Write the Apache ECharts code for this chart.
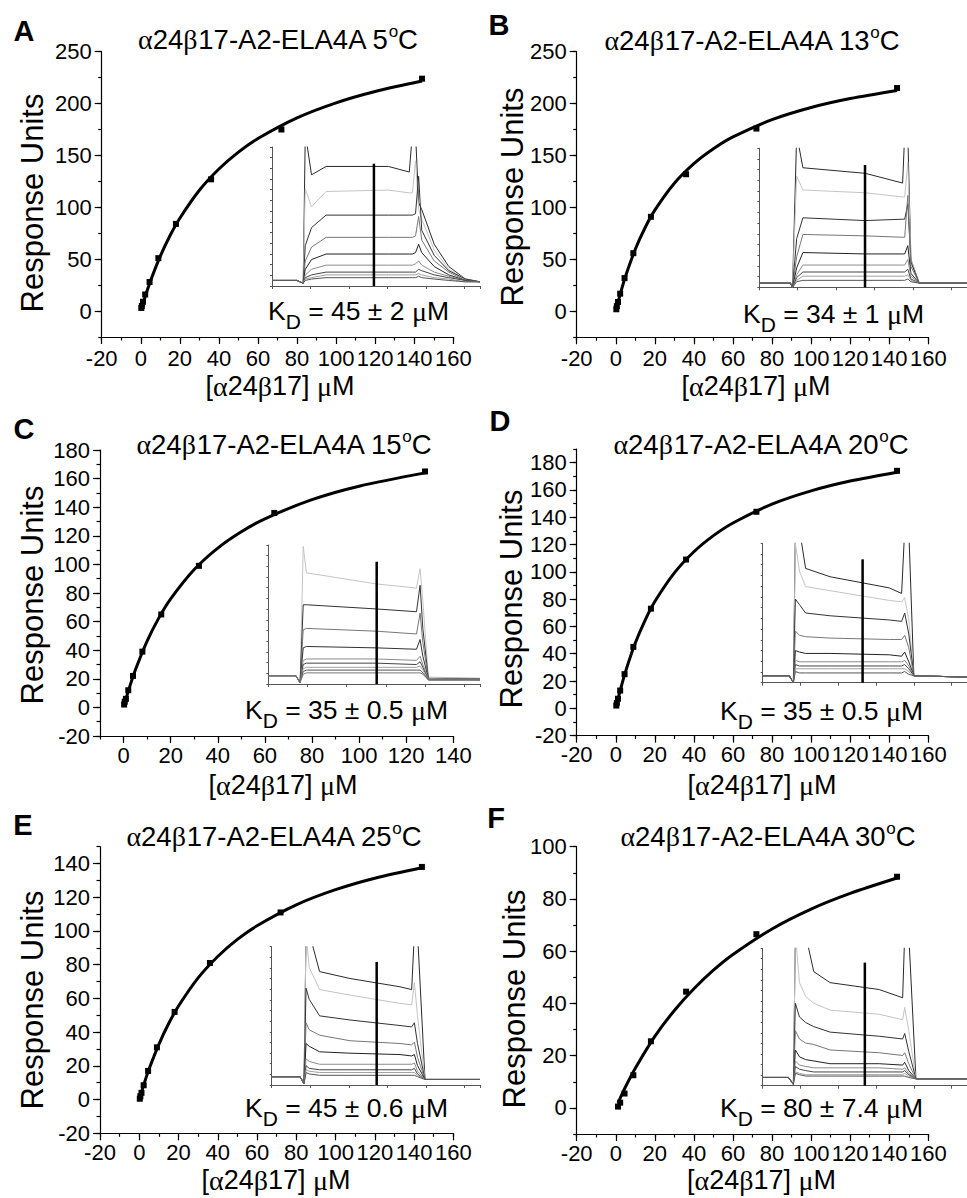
<!DOCTYPE html>
<html><head><meta charset="utf-8">
<script src="https://cdn.jsdelivr.net/npm/echarts@6/dist/echarts.min.js"></script>
<style>html,body{margin:0;padding:0;background:#fff}#c{width:967px;height:1198px}</style>
</head><body><div id="c"></div>
<script>
// ---------------- DATA ----------------
const panelLetters = ['A','B','C','D','E','F'];
const temperatures = ['5','13','15','20','25','30'];
const kdTexts = ['45 ± 2','34 ± 1','35 ± 0.5','35 ± 0.5','45 ± 0.6','80 ± 7.4'];

// measured points (concentration µM, response units)
const concA = [0.28,0.56,1.13,2.25,4.5,9,18,36,72,144];
const ruA   = [3,5,9,16,28,51,84,127,175,224];
const concB = [0.28,0.56,1.13,2.25,4.5,9,18,36,72,144];
const ruB   = [2,5,9,17,32,56,91,132,176,215];
const concC = [0.25,0.5,1,2,4,8,16,32,64,128];
const ruC   = [2,4,6,12,22,39,65,99,136,165];
const concD = [0.28,0.56,1.13,2.25,4.5,9,18,36,72,144];
const ruD   = [2,4,7,13,25,45,73,109,144,174];
const concE = [0.28,0.56,1.13,2.25,4.5,9,18,36,72,144];
const ruE   = [0.5,2,4,8.5,17,31,52,81,111,138];
const concF = [1.13,2.25,4.5,9,18,36,72,144];
const ruF   = [0.5,2,5.5,12.5,25.5,44.5,66.5,88.5];

// fitted curves
const fitXA = [0.3,2,5,10,15,20,30,40,50,60,80,100,120,144];
const fitYA = [1.9,12.4,29.1,52.9,72.8,89.5,116.4,136.9,153.2,166.3,186.2,200.7,211.6,221.7];
const fitXB = [0.3,2,5,10,15,20,30,40,50,60,80,100,120,144];
const fitYB = [2.3,14.6,33.7,59.8,80.5,97.4,123.3,142.2,156.5,167.9,184.6,196.3,204.9,212.7];
const fitXC = [0.25,2,5,10,15,20,30,40,50,60,80,100,128];
const fitYC = [1.5,11.3,26.1,46.4,62.6,75.9,96.4,111.4,122.8,131.9,145.3,154.7,164];
const fitXD = [0.28,2,5,10,15,20,30,40,50,60,80,100,120,144];
const fitYD = [1.7,11.6,26.9,47.8,64.5,78.2,99.2,114.7,126.5,135.8,149.6,159.3,166.5,173];
const fitXE = [0.28,2,5,10,15,20,30,40,50,60,80,100,120,144];
const fitYE = [1.1,7.7,18.1,32.8,45.1,55.5,72.2,84.9,95.0,103.1,115.5,124.5,131.3,137.5];
const fitXF = [1.13,2,5,10,20,30,40,50,60,80,100,120,144];
const fitYF = [1.9,3.3,8.1,15.2,27.4,37.3,45.6,52.7,58.7,68.5,76.1,82.1,88];

// tick labels
const xTicksWide = [-20,0,20,40,60,80,100,120,140,160];
const xTicksC = [0,20,40,60,80,100,120,140];
const yTicksAB = [0,50,100,150,200,250];
const yTicksCD = [-20,0,20,40,60,80,100,120,140,160,180];
const yTicksE = [-20,0,20,40,60,80,100,120,140];
const yTicksF = [0,20,40,60,80,100];

// inset sensorgrams (relative time 0-100, relative response 0-100 of inset height)
const timeA = [0,12,15,16,19,26,56,66,67.5,69,70.5,72,78,85,93,100];
const tracesA = [
 [4,4,2,110,80,86,86,82,110,110,60,55,30,14,5,3],
 [4,4,2,70,57,68,69,67,67,90,55,48,26,12,5,3],
 [4,4,2,29,42,51,51,51,51,52,79,40,22,11,5,3],
 [4,4,2,18,28,35,35,35,35,36,50,33,18,10,4,3],
 [4,4,2,12,19,23,23,23,23,24,30,24,14,8,4,3],
 [4,4,2,8,12,15,15,15,15,16,18,15,10,7,4,3],
 [4,4,2,6,8,10,10,10,10,10,12,11,8,6,4,3],
 [4,4,2,5,6,8,8,8,8,8,9,8,6,5,3,3],
 [4,4,2,4,5,6,6,6,6,6,7,6,5,4,3,3]
];
const timeB = [0,15,16,18,21,51,69,70,71.5,73,77,100];
const tracesB = [
 [3,3,0,110,86,82,75,110,110,20,3,3],
 [3,3,0,80,70,68,65,65,90,20,3,3],
 [3,3,0,35,50,48,49,49,60,18,3,3],
 [3,3,0,22,38,37,36,36,66,15,3,3],
 [3,3,0,14,25,24,24,24,30,10,3,3],
 [3,3,0,9,16,16,16,16,20,8,3,3],
 [3,3,0,7,11,11,11,11,13,6,3,3],
 [3,3,0,5,8,8,8,8,9,5,3,3],
 [3,3,0,4,5,5,5,5,6,4,3,3]
];
const timeC = [0,13,15,16.5,18,51,70,71.7,73,75.6,100];
const tracesC = [
 [6,6,1,99,80,72,69,83,60,5,4],
 [6,6,1,57,57,54,52,71,40,4,4],
 [6,6,1,39,40,38,36,51,30,4,4],
 [6,6,1,26,27,26,25,32,20,4,3],
 [6,6,1,17,18,18,17,20,14,4,3],
 [6,6,1,14,15,15,14,16,12,3,3],
 [6,6,1,11,12,12,12,13,10,3,3],
 [6,6,1,9,10,10,10,10,8,3,3],
 [6,6,1,7,8,8,8,8,7,3,3]
];
const timeD = [0,13,15,16,18,21,33,62,68,69.5,71.5,74,100];
const tracesD = [
 [5,5,0,110,110,82,76,68,64,110,110,5,4],
 [5,5,0,100,80,69,66,59,58,61,45,5,4],
 [5,5,0,60,56,50,48,45,44,50,35,5,4],
 [5,5,0,37,34,33,32,31,31,34,25,5,4],
 [5,5,0,23,22,21,21,20,19,22,15,5,4],
 [5,5,0,16,15,15,15,15,15,16,12,5,4],
 [5,5,0,13,12,12,12,12,12,13,10,5,4],
 [5,5,0,10,10,10,10,10,10,10,8,5,4],
 [5,5,0,8,7,7,7,7,7,8,6,5,4]
];
const timeE = [0,13.6,15.5,16.5,18,23,37.6,61.6,67.2,68.5,70,73.6,100];
const tracesE = [
 [6,6,1,110,110,82,77,71,69,110,110,4,4],
 [6,6,1,110,85,69,65,59,58,74,50,4,4],
 [6,6,1,70,62,50,47,43,42,45,30,4,4],
 [6,6,1,45,40,36,32,30,29,31,20,4,4],
 [6,6,1,30,28,24,23,22,21,22,14,4,4],
 [6,6,1,19,17,15,15,15,15,16,10,4,4],
 [6,6,1,14,12,11,11,11,11,12,8,4,4],
 [6,6,1,11,10,9,9,9,9,9,7,4,4],
 [6,6,1,9,8,7,7,7,7,7,6,4,4]
];
const timeF = [0,12.6,15,16,18,21,25,33,57,68.5,69.5,71.5,75,100];
const tracesF = [
 [6,6,1,110,110,110,83,75,70,64,110,110,5,5],
 [6,6,1,110,75,65,60,55,52,48,57,40,5,5],
 [6,6,1,60,50,46,43,39,36,34,38,25,5,5],
 [6,6,1,40,34,31,30,26,24,22,24,16,5,5],
 [6,6,1,26,21,19,18,16,16,15,17,11,5,5],
 [6,6,1,18,15,14,13,13,13,12,13,9,5,5],
 [6,6,1,14,12,11,10,10,10,10,11,8,5,5],
 [6,6,1,10,9,8,8,8,8,8,9,7,5,5],
 [6,6,1,9,8,7,7,7,7,7,7,6,5,5]
];
// vertical marker in inset: [time, top]
const markerA = [49,88], markerB = [50.9,88], markerC = [51.2,88], markerD = [48.9,88.5], markerE = [50.4,89], markerF = [50,89.6];

const panels = [
 {conc:concA, ru:ruA, fitX:fitXA, fitY:fitYA, xTicks:xTicksWide, yTicks:yTicksAB, time:timeA, traces:tracesA, marker:markerA},
 {conc:concB, ru:ruB, fitX:fitXB, fitY:fitYB, xTicks:xTicksWide, yTicks:yTicksAB, time:timeB, traces:tracesB, marker:markerB},
 {conc:concC, ru:ruC, fitX:fitXC, fitY:fitYC, xTicks:xTicksC, yTicks:yTicksCD, time:timeC, traces:tracesC, marker:markerC},
 {conc:concD, ru:ruD, fitX:fitXD, fitY:fitYD, xTicks:xTicksWide, yTicks:yTicksCD, time:timeD, traces:tracesD, marker:markerD},
 {conc:concE, ru:ruE, fitX:fitXE, fitY:fitYE, xTicks:xTicksWide, yTicks:yTicksE, time:timeE, traces:tracesE, marker:markerE},
 {conc:concF, ru:ruF, fitX:fitXF, fitY:fitYF, xTicks:xTicksWide, yTicks:yTicksF, time:timeF, traces:tracesF, marker:markerF}
];

// ---------------- LAYOUT / STYLE ----------------
const layout = [
 {grid:[101.7,51.7,351.6,285.3], inset:[272,147,208,139], x:[-20,160,10], y:[-25,250,25], xm:10,
  title:[278,39], letter:[24,31], kd:[268,311], xName:[280,386], yName:[32.5,203]},
 {grid:[576.7,51.7,351.6,285.6], inset:[759.3,148.3,207.7,139], x:[-20,160,10], y:[-25,250,25], xm:10,
  title:[752,40], letter:[499,25], kd:[743,314], xName:[756,386], yName:[512.5,197]},
 {grid:[100,450,353.3,286], inset:[268.3,545,211.7,139], x:[-10,140,10], y:[-20,180,10], xm:8,
  title:[284,444], letter:[24,429], kd:[245,710], xName:[283,785], yName:[32.5,595]},
 {grid:[576.7,449,351.6,286.6], inset:[762.7,543.3,204.3,139.4], x:[-20,160,10], y:[-20,190,10], xm:8,
  title:[761,444], letter:[500,421], kd:[720,711], xName:[762,785], yName:[511,599]},
 {grid:[100,846.7,353.3,286.6], inset:[271.7,946.7,208.3,138.3], x:[-20,160,10], y:[-20,150,10], xm:8,
  title:[274,836], letter:[23,825], kd:[245,1108], xName:[276,1180], yName:[32.5,1000]},
 {grid:[576.7,846.7,351.6,287.3], inset:[762.7,948.3,204.3,137.4], x:[-20,160,10], y:[-10,100,10], xm:8,
  title:[768,836], letter:[496,818], kd:[720,1108], xName:[761.5,1180], yName:[514,999]}
];
const traceColorsDark = ['#2a2a2a','#c4c4c4','#333','#777','#222','#8c8c8c','#444','#a0a0a0','#555'];
const traceColorsC = ['#c4c4c4','#333','#777','#333','#8c8c8c','#444','#a0a0a0','#555','#777'];

const FONT = 'Liberation Sans, Arial, Helvetica, sans-serif';
const SERIF = 'Liberation Serif, Times New Roman, serif';

const grids = [], xAxes = [], yAxes = [], series = [], graphics = [];
const black = {color:'#000', width:1.2};

panels.forEach((p, i) => {
  const L = layout[i];
  const gMain = grids.length;
  grids.push({left:L.grid[0], top:L.grid[1], width:L.grid[2], height:L.grid[3], containLabel:false});
  const gIn = grids.length;
  grids.push({left:L.inset[0], top:L.inset[1], width:L.inset[2], height:L.inset[3], containLabel:false});

  const xMain = xAxes.length;
  xAxes.push({type:'value', gridIndex:gMain, position:'bottom', min:L.x[0], max:L.x[1], interval:L.x[2],
    axisLine:{onZero:false, lineStyle:black},
    axisTick:{customValues:p.xTicks, length:7, lineStyle:black},
    axisLabel:{customValues:p.xTicks, margin:L.xm, fontSize:22, color:'#000', fontFamily:FONT},
    splitLine:{show:false}});
  xAxes.push({type:'value', gridIndex:gMain, position:'bottom', min:L.x[0], max:L.x[1], interval:L.x[2],
    axisLine:{show:false, onZero:false}, axisTick:{length:3.5, lineStyle:black},
    axisLabel:{show:false}, splitLine:{show:false}});
  const yMain = yAxes.length;
  yAxes.push({type:'value', gridIndex:gMain, position:'left', min:L.y[0], max:L.y[1], interval:L.y[2],
    axisLine:{onZero:false, lineStyle:black},
    axisTick:{customValues:p.yTicks, length:7, lineStyle:black},
    axisLabel:{customValues:p.yTicks, margin:10, fontSize:22, color:'#000', fontFamily:FONT},
    splitLine:{show:false}});
  yAxes.push({type:'value', gridIndex:gMain, position:'left', min:L.y[0], max:L.y[1], interval:L.y[2],
    axisLine:{show:false, onZero:false}, axisTick:{length:3.5, lineStyle:black},
    axisLabel:{show:false}, splitLine:{show:false}});

  const xIn = xAxes.length;
  xAxes.push({type:'value', gridIndex:gIn, position:'bottom', min:0, max:100, interval:18.5,
    axisLine:{onZero:false, lineStyle:{color:'#555', width:1}},
    axisTick:{length:3, lineStyle:{color:'#555', width:1}},
    axisLabel:{show:false}, splitLine:{show:false}});
  const yIn = yAxes.length;
  yAxes.push({type:'value', gridIndex:gIn, position:'left', min:0, max:100, interval:7.7,
    axisLine:{onZero:false, lineStyle:{color:'#555', width:1}},
    axisTick:{length:2, lineStyle:{color:'#555', width:1}},
    axisLabel:{show:false}, splitLine:{show:false}});

  // inset traces
  const cols = i === 2 ? traceColorsC : traceColorsDark;
  p.traces.forEach((tr, k) => {
    series.push({type:'line', xAxisIndex:xIn, yAxisIndex:yIn, symbol:'none', silent:true,
      data: p.time.map((t, j) => [t, tr[j]]),
      lineStyle:{color:cols[k % cols.length], width:1}, z:2});
  });
  series.push({type:'line', xAxisIndex:xIn, yAxisIndex:yIn, symbol:'none', silent:true,
    data:[[p.marker[0], 0], [p.marker[0], p.marker[1]]],
    lineStyle:{color:'#000', width:2.5}, z:3});

  // fitted curve + points
  series.push({type:'line', xAxisIndex:xMain, yAxisIndex:yMain, symbol:'none', smooth:0.3, silent:true,
    data: p.fitX.map((x, j) => [x, p.fitY[j]]), lineStyle:{color:'#000', width:3}, z:4});
  series.push({type:'scatter', xAxisIndex:xMain, yAxisIndex:yMain, symbol:'rect', symbolSize:6, silent:true,
    data: p.conc.map((x, j) => [x, p.ru[j]]), itemStyle:{color:'#000', opacity:1}, z:5});

  // texts
  graphics.push({type:'text', x:L.letter[0], y:L.letter[1], silent:true,
    style:{text:panelLetters[i], font:`bold 29px ${FONT}`, fill:'#000', align:'center', verticalAlign:'middle', textAlign:'center', textVerticalAlign:'middle'}});
  graphics.push({type:'text', x:L.title[0], y:L.title[1], silent:true,
    style:{text:'{g|α}24{g|β}17-A2-ELA4A ' + temperatures[i] + '{s|o}C', font:`27.5px ${FONT}`, fill:'#000',
      align:'center', verticalAlign:'middle', textAlign:'center', textVerticalAlign:'middle',
      rich:{g:{font:`28px ${SERIF}`, fill:'#000'}, s:{font:`17px ${FONT}`, fill:'#000', padding:[0,0,16,0]}}}});
  graphics.push({type:'text', x:L.kd[0], y:L.kd[1], silent:true,
    style:{text:'{k|K}{d|D}{n| = ' + kdTexts[i] + ' }{g|μ}{n|M}', font:`26.5px ${FONT}`, fill:'#000',
      align:'left', verticalAlign:'middle', textAlign:'left', textVerticalAlign:'middle',
      rich:{k:{font:`26.5px ${FONT}`, fill:'#000'}, d:{font:`21px ${FONT}`, fill:'#000', padding:[20,0,0,0]},
            n:{font:`26.5px ${FONT}`, fill:'#000'}, g:{font:`28px ${SERIF}`, fill:'#000'}}}});
  graphics.push({type:'text', x:L.xName[0], y:L.xName[1], silent:true,
    style:{text:'[{g|α}24{g|β}17] {g|μ}M', font:`27px ${FONT}`, fill:'#000', align:'center', verticalAlign:'middle',
      textAlign:'center', textVerticalAlign:'middle', rich:{g:{font:`28px ${SERIF}`, fill:'#000'}}}});
  graphics.push({type:'text', x:L.yName[0], y:L.yName[1], rotation:Math.PI/2, silent:true,
    style:{text:'Response Units', font:`31px ${FONT}`, fill:'#000', align:'center', verticalAlign:'middle',
      textAlign:'center', textVerticalAlign:'middle'}});
});

const chart = echarts.init(document.getElementById('c'), null, {renderer:'svg', width:967, height:1198});
chart.setOption({
  backgroundColor:'#fff', animation:false,
  grid:grids, xAxis:xAxes, yAxis:yAxes, series:series, graphic:graphics
});
</script>
</body></html>
